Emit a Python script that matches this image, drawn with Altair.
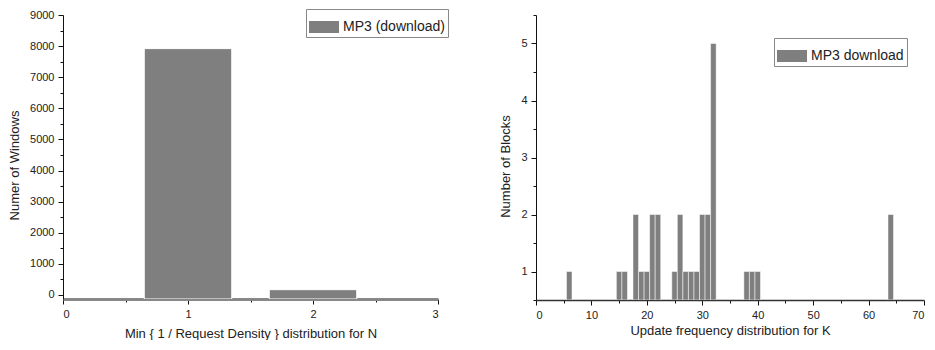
import altair as alt
import pandas as pd

# ---- data ----
left_n = [0, 1, 2, 3]
left_counts = [0, 7920, 170, 0]
left_series = "MP3 (download)"

right_k = [6, 15, 16, 18, 19, 20, 21, 22, 25, 26, 27, 28, 29, 30, 31, 32, 38, 39, 40, 64]
right_counts = [1, 1, 1, 2, 1, 1, 2, 2, 1, 2, 1, 1, 1, 2, 2, 5, 1, 1, 1, 2]
right_series = "MP3 download"

left_x_ticks = [0, 0.5, 1, 1.5, 2, 2.5, 3]
left_y_ticks = [v * 500 for v in range(0, 19)]
right_x_ticks = list(range(0, 71, 5))
right_y_ticks = [0.5 + 0.5 * i for i in range(11)]

LEFT_YMIN = -130
RIGHT_YMIN = 0.5
BAR_GRAY = "#7f7f7f"
FONT = "Liberation Sans"
RECT = "M-1,-0.4L1,-0.4L1,0.4L-1,0.4Z"

df_l = pd.DataFrame({"n": left_n, "count": left_counts, "series": left_series})
df_r = pd.DataFrame({"k": right_k, "count": right_counts, "series": right_series})


def legend(x, y):
    return alt.Legend(
        title=None, orient="none", legendX=x, legendY=y, direction="vertical",
        symbolType=RECT, symbolSize=900, symbolStrokeWidth=0, symbolOpacity=1,
        labelFont=FONT, labelFontSize=14, labelColor="#222", labelLimit=0,
        labelOffset=4, strokeColor="#888", fillColor="white", padding=3,
        cornerRadius=0,
    )


left = alt.Chart(df_l).transform_filter(
    "datum.count > 0"
).transform_calculate(
    x0="datum.n - 0.35", x1="datum.n + 0.35"
).mark_bar(clip=True, stroke="white", strokeWidth=1).encode(
    x=alt.X("x0:Q", scale=alt.Scale(domain=[0, 3], nice=False, zero=False),
            axis=alt.Axis(values=left_x_ticks,
                          labelExpr="datum.value % 1 === 0 ? format(datum.value, 'd') : ''",
                          tickSize={"condition": {"test": "datum.value % 1 === 0", "value": 5}, "value": 3},
                          title="Min { 1 / Request Density } distribution for N",
                          domainColor="#888", domainWidth=3, titlePadding=8)),
    x2="x1:Q",
    y=alt.Y("count:Q", scale=alt.Scale(domain=[LEFT_YMIN, 9000], nice=False, zero=False),
            axis=alt.Axis(values=left_y_ticks,
                          labelExpr="datum.value % 1000 === 0 ? format(datum.value, 'd') : ''",
                          tickSize={"condition": {"test": "datum.value % 1000 === 0", "value": 5}, "value": 3},
                          title="Numer of Windows", titlePadding=8, titleY=150)),
    y2=alt.datum(LEFT_YMIN),
    color=alt.Color("series:N", scale=alt.Scale(range=[BAR_GRAY]), legend=legend(243, -6)),
).properties(width=375, height=284)

right = alt.Chart(df_r).transform_calculate(
    x0="datum.k - 0.5", x1="datum.k + 0.5"
).mark_bar(clip=True, stroke="white", strokeWidth=0.5).encode(
    x=alt.X("x0:Q", scale=alt.Scale(domain=[0, 70], nice=False, zero=False),
            axis=alt.Axis(values=right_x_ticks,
                          labelExpr="datum.value % 10 === 0 ? format(datum.value, 'd') : ''",
                          tickSize={"condition": {"test": "datum.value % 10 === 0", "value": 5}, "value": 3},
                          title="Update frequency distribution for K",
                          domainColor="#333", domainWidth=1.5, titlePadding=4)),
    x2="x1:Q",
    y=alt.Y("count:Q", scale=alt.Scale(domain=[RIGHT_YMIN, 5.5], nice=False, zero=False),
            axis=alt.Axis(values=right_y_ticks,
                          labelExpr="datum.value % 1 === 0 ? format(datum.value, 'd') : ''",
                          tickSize={"condition": {"test": "datum.value % 1 === 0", "value": 5}, "value": 3},
                          title="Number of Blocks", titlePadding=8, titleY=151)),
    y2=alt.datum(RIGHT_YMIN),
    color=alt.Color("series:N", scale=alt.Scale(range=[BAR_GRAY]), legend=legend(238, 23)),
).properties(width=388, height=285)

chart = alt.hconcat(left, right, spacing=50).resolve_scale(
    color="independent"
).resolve_legend(color="independent").properties(
    padding=0, background="white"
).configure_view(stroke=None).configure_axis(
    grid=False, domainColor="#111", tickColor="#111", labelFont=FONT, titleFont=FONT,
    labelFontSize=11, titleFontSize=13, titleFontWeight="normal",
    labelColor="#222", titleColor="#222", labelPadding=4,
)

chart.save("out.html", embed_options={"renderer": "svg", "actions": False})
